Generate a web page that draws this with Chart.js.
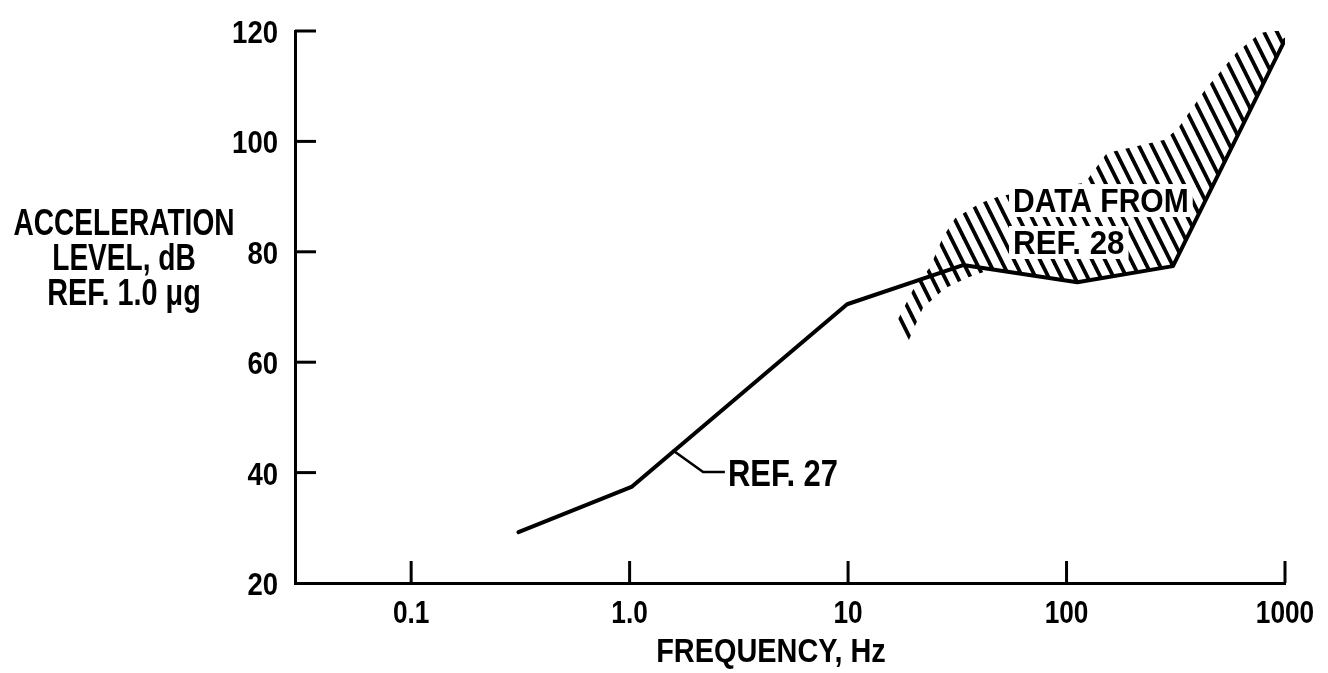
<!DOCTYPE html>
<html><head><meta charset="utf-8">
<script src="https://cdn.jsdelivr.net/npm/chart.js@4"></script>
<style>html,body{margin:0;padding:0;background:#fff;}canvas{display:block}</style>
</head><body>
<canvas id="c" width="1328" height="673"></canvas>
<script>
// ---- data ----
const xTickValues = [0.1, 1, 10, 100, 1000];
const xTickLabels = ['0.1', '1.0', '10', '100', '1000'];
const yTickValues = [20, 40, 60, 80, 100, 120];
const yTickLabels = ['20', '40', '60', '80', '100', '120'];
const ref27Freq  = [0.31, 1.02, 9.9, 33.6, 112, 307, 1000];
const ref27Level = [29.2, 37.4, 70.5, 77.6, 74.5, 77.4, 118.4];
const ref28UpperFreq  = [16.4, 19.8, 23.7, 27.2, 30.9, 40.2, 49.7, 121.6, 153, 282, 324, 430, 603, 769, 948, 1000];
const ref28UpperLevel = [66.7, 73.1, 77.2, 82.7, 86.1, 88.8, 90.1, 92.5, 97.9, 100.3, 102.4, 109.3, 116.2, 119.6, 120.4, 118.4];
const ref28LowerFreq  = [18.4, 22.0, 27.8, 35.1, 45, 112, 307, 1000];
const ref28LowerLevel = [62.8, 69.8, 73.4, 75.3, 76.8, 74.5, 77.4, 118.4];
const leaderFreq  = [1.57, 2.17, 2.73];
const leaderLevel = [44.1, 40.1, 40.1];
const yTitleLines = ['ACCELERATION', 'LEVEL, dB', 'REF. 1.0 \u03bcg'];
const xTitle = 'FREQUENCY, Hz';
const ref27Text = 'REF. 27';
const ref28Lines = ['DATA FROM', 'REF. 28'];

// ---- build ----
const FONT = '"Liberation Sans", Arial, sans-serif';
const pts = (xs, ys) => xs.map((x, i) => ({x, y: ys[i]}));
const polygon = pts(ref28UpperFreq, ref28UpperLevel)
  .concat(pts(ref28LowerFreq, ref28LowerLevel).reverse().slice(1));

function hatchPattern() {
  const c = document.createElement('canvas');
  c.width = 13; c.height = 26;
  const g = c.getContext('2d');
  g.strokeStyle = '#000';
  g.lineWidth = 3.8;
  for (const dx of [-13, 0, 13]) {
    g.beginPath(); g.moveTo(dx - 1, -2); g.lineTo(dx + 14, 28); g.stroke();
  }
  return g.createPattern(c, 'repeat');
}

// condensed text helper (lettering of the original is narrow)
function text(ctx, str, x, y, size, sx, align) {
  ctx.save();
  ctx.font = 'bold ' + size + 'px ' + FONT;
  ctx.textAlign = align; ctx.textBaseline = 'alphabetic';
  ctx.translate(x, y); ctx.scale(sx, 1);
  ctx.fillText(str, 0, 0);
  const w = ctx.measureText(str).width * sx;
  ctx.restore();
  return w;
}

const deco = {
  id: 'deco',
  afterDatasetsDraw(chart) {
    const {ctx, chartArea: a, scales: {x, y}} = chart;
    ctx.save();
    // inward tick marks
    ctx.strokeStyle = '#000'; ctx.lineWidth = 3;
    y.ticks.forEach(t => {
      if (t.value === y.min) return;
      const py = y.getPixelForValue(t.value);
      ctx.beginPath(); ctx.moveTo(a.left, py); ctx.lineTo(a.left + 21, py); ctx.stroke();
    });
    x.ticks.forEach(t => {
      const px = x.getPixelForValue(t.value);
      ctx.beginPath(); ctx.moveTo(px, a.bottom); ctx.lineTo(px, a.bottom - 22); ctx.stroke();
    });
    ctx.fillStyle = '#000';
    // tick labels
    y.ticks.forEach((t, i) => text(ctx, yTickLabels[i], a.left - 17, y.getPixelForValue(t.value) + 12, 32, 0.86, 'right'));
    x.ticks.forEach((t, i) => text(ctx, xTickLabels[i], x.getPixelForValue(t.value), a.bottom + 40, 32, 0.82, 'center'));
    // REF. 27
    const lx = x.getPixelForValue(leaderFreq[leaderFreq.length - 1]);
    const ly = y.getPixelForValue(leaderLevel[leaderLevel.length - 1]);
    text(ctx, ref27Text, lx + 3, ly + 14, 36, 0.86, 'left');
    // DATA FROM / REF. 28 with white knockout
    const tx = x.getPixelForValue(56.9);
    [[87.2, 0.91], [79.6, 0.95]].forEach(([lev, sx], i) => {
      const by = y.getPixelForValue(lev);
      ctx.save();
      ctx.font = 'bold 33px ' + FONT;
      const w = ctx.measureText(ref28Lines[i]).width * sx;
      ctx.fillStyle = '#fff';
      ctx.fillRect(tx - 4, by - 28, w + 8, 33);
      ctx.restore();
      text(ctx, ref28Lines[i], tx, by, 33, sx, 'left');
    });
    // axis titles
    [[235, 0.78], [270, 0.78], [305, 0.8]].forEach(([by, sx], i) => text(ctx, yTitleLines[i], a.left - 171, by, 36, sx, 'center'));
    text(ctx, xTitle, a.left + 476, 662, 34, 0.85, 'center');
    ctx.restore();
  }
};

new Chart(document.getElementById('c'), {
  type: 'line',
  data: {
    datasets: [
      { label: 'REF. 28', data: polygon, fill: 'shape', backgroundColor: hatchPattern(),
        borderWidth: 0, pointRadius: 0, tension: 0 },
      { label: 'REF. 27', data: pts(ref27Freq, ref27Level), borderColor: '#000', borderWidth: 4,
        pointRadius: 0, fill: false, tension: 0, borderJoinStyle: 'round', borderCapStyle: 'round' },
      { label: 'leader', data: pts(leaderFreq, leaderLevel), borderColor: '#000', borderWidth: 2.6,
        pointRadius: 0, fill: false, tension: 0 }
    ]
  },
  plugins: [deco],
  options: {
    responsive: false, animation: false, events: [],
    layout: { padding: { left: 0, right: 43, top: 31, bottom: 0 } },
    plugins: { legend: { display: false }, tooltip: { enabled: false } },
    scales: {
      x: {
        type: 'logarithmic', min: 0.0294, max: 1000,
        afterBuildTicks: s => { s.ticks = xTickValues.map(v => ({ value: v })); },
        afterFit: s => { s.height = 90; },
        grid: { display: false, drawTicks: false },
        border: { display: true, color: '#000', width: 3 },
        ticks: { display: false, autoSkip: false, maxRotation: 0,
          callback: (v, i) => xTickLabels[i] }
      },
      y: {
        type: 'linear', min: 20, max: 120,
        afterBuildTicks: s => { s.ticks = yTickValues.map(v => ({ value: v })); },
        afterFit: s => { s.width = 295; },
        grid: { display: false, drawTicks: false },
        border: { display: true, color: '#000', width: 3 },
        ticks: { display: false, callback: (v, i) => yTickLabels[i] }
      }
    }
  }
});
</script>
</body></html>
